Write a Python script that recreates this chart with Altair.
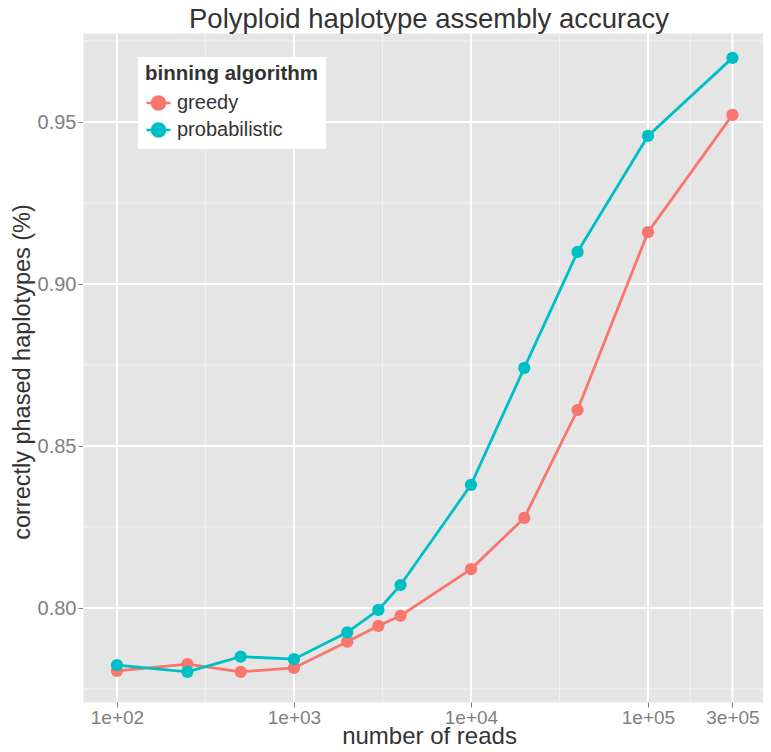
import altair as alt
import pandas as pd

# ---- data ----
reads = [100, 250, 500, 1000, 2000, 3000, 4000, 10000, 20000, 40000, 100000, 300000]
greedy = [0.7806, 0.7827, 0.7803, 0.7815, 0.7896, 0.7945, 0.7976, 0.8120, 0.8278, 0.8611, 0.9160, 0.9522]
probabilistic = [0.7824, 0.7803, 0.7850, 0.7842, 0.7925, 0.7994, 0.8071, 0.8380, 0.8741, 0.9099, 0.9457, 0.9698]
series_names = ["greedy", "probabilistic"]
series_colors = ["#F8766D", "#00BFC4"]

x_ticks = [100, 1000, 10000, 100000, 300000]
x_tick_labels = ["1e+02", "1e+03", "1e+04", "1e+05", "3e+05"]
x_minor = [316.23, 3162.3, 31623, 173205]
y_ticks = [0.80, 0.85, 0.90, 0.95]
y_minor = [0.775, 0.825, 0.875, 0.925, 0.975]
x_domain = [64.3, 446400]
y_domain = [0.77099, 0.97747]

FONT = "Liberation Sans"
W, H = 680, 669

df = pd.DataFrame({
    "reads": reads * 2,
    "value": greedy + probabilistic,
    "algorithm": ["greedy"] * len(reads) + ["probabilistic"] * len(reads),
})

label_expr = " : ".join(
    f"datum.value == {v} ? '{l}'" for v, l in zip(x_ticks, x_tick_labels)
) + " : ''"

x_scale = alt.Scale(type="log", domain=x_domain, nice=False)
y_scale = alt.Scale(domain=y_domain, zero=False, nice=False)

x_axis = alt.Axis(
    values=x_ticks, labelExpr=label_expr, title="number of reads",
    grid=False, domain=False, tickColor="#7F7F7F", tickSize=5, tickWidth=1,
    labelColor="#7F7F7F", labelFontSize=19, labelFont=FONT, labelPadding=1,
    labelFlush=False, labelOverlap=False,
    titleFont=FONT, titleFontSize=24, titleFontWeight="normal", titleColor="#333333",
    titleBaseline="alphabetic", titleY=41, titleX=W / 2 + 6,
)
y_axis = alt.Axis(
    values=y_ticks, format=".2f", title="correctly phased haplotypes (%)",
    grid=False, domain=False, tickColor="#7F7F7F", tickSize=5, tickWidth=1,
    labelColor="#7F7F7F", labelFontSize=20, labelFont=FONT, labelPadding=2,
    labelFlush=False, labelOverlap=False,
    titleFont=FONT, titleFontSize=23.5, titleFontWeight="normal", titleColor="#333333",
    titleBaseline="alphabetic", titleX=-54, titleY=H / 2 + 4, titleAngle=270,
)

grid_minor_x = alt.Chart(pd.DataFrame({"gx": x_minor})).mark_rule(
    color="#F2F2F2", strokeWidth=1
).encode(x=alt.X("gx:Q", scale=x_scale, axis=x_axis))
grid_minor_y = alt.Chart(pd.DataFrame({"gy": y_minor})).mark_rule(
    color="#F2F2F2", strokeWidth=1
).encode(y=alt.Y("gy:Q", scale=y_scale, axis=y_axis))
grid_major_x = alt.Chart(pd.DataFrame({"gx": x_ticks})).mark_rule(
    color="#FFFFFF", strokeWidth=2
).encode(x=alt.X("gx:Q", scale=x_scale, axis=x_axis))
grid_major_y = alt.Chart(pd.DataFrame({"gy": y_ticks})).mark_rule(
    color="#FFFFFF", strokeWidth=2
).encode(y=alt.Y("gy:Q", scale=y_scale, axis=y_axis))

legend_symbol = (
    "M-1,0L1,0 "
    "M-0.55,0A0.55,0.55 0 1,0 0.55,0A0.55,0.55 0 1,0 -0.55,0Z"
)

color = alt.Color(
    "algorithm:N",
    scale=alt.Scale(domain=series_names, range=series_colors),
    legend=alt.Legend(
        title="binning algorithm", orient="none", legendX=55, legendY=24,
        fillColor="#FFFFFF", padding=7, titlePadding=5,
        titleFont=FONT, titleFontSize=20.5, titleFontWeight="bold", titleColor="#333333",
        labelFont=FONT, labelFontSize=20, labelColor="#333333", labelOffset=5,
        symbolType=legend_symbol, symbolSize=576, symbolStrokeWidth=2.5,
        symbolOpacity=1, rowPadding=1,
    ),
)

base = alt.Chart(df).encode(
    x=alt.X("reads:Q", scale=x_scale, axis=x_axis),
    y=alt.Y("value:Q", scale=y_scale, axis=y_axis),
    color=color,
)
lines = base.mark_line(strokeWidth=2.8)
points = base.mark_point(filled=True, size=150, opacity=1)

chart = alt.layer(
    grid_minor_x, grid_minor_y, grid_major_x, grid_major_y, lines, points
).properties(
    width=W, height=H,
    autosize="none",
    padding={"left": 75, "top": 25, "right": 0, "bottom": 42},
    title=alt.TitleParams(
        "Polyploid haplotype assembly accuracy", font=FONT, fontSize=27.5,
        fontWeight="normal", color="#333333", anchor="middle", frame="group",
        offset=0, dx=6, dy=1.5,
    ),
).configure_view(fill="#E5E5E5", stroke="transparent")

chart.save("out.html", embed_options={"renderer": "svg", "actions": False})
